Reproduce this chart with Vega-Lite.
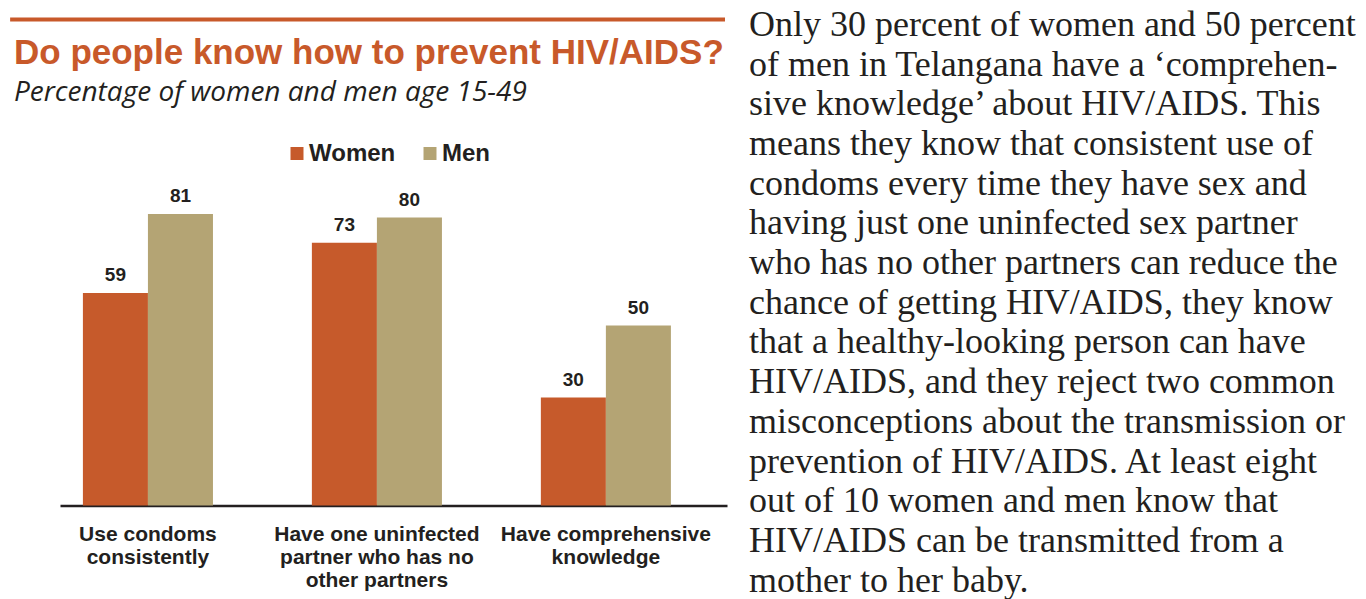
{
  "$schema": "https://vega.github.io/schema/vega-lite/v6.json",
  "background": "white",
  "padding": {"left": 10, "top": 6.5, "right": 0, "bottom": 0},
  "config": {"view": {"stroke": null}, "font": "Liberation Sans"},
  "datasets": {
    "bars": [
      {"indicator": "Use condoms consistently", "sex": "Women", "value": 59},
      {"indicator": "Use condoms consistently", "sex": "Men", "value": 81},
      {"indicator": "Have one uninfected partner who has no other partners", "sex": "Women", "value": 73},
      {"indicator": "Have one uninfected partner who has no other partners", "sex": "Men", "value": 80},
      {"indicator": "Have comprehensive knowledge", "sex": "Women", "value": 30},
      {"indicator": "Have comprehensive knowledge", "sex": "Men", "value": 50}
    ],
    "lines": [
      {"line": 1, "text": "Only 30 percent of women and 50 percent"},
      {"line": 2, "text": "of men in Telangana have a ‘comprehen-"},
      {"line": 3, "text": "sive knowledge’ about HIV/AIDS. This"},
      {"line": 4, "text": "means they know that consistent use of"},
      {"line": 5, "text": "condoms every time they have sex and"},
      {"line": 6, "text": "having just one uninfected sex partner"},
      {"line": 7, "text": "who has no other partners can reduce the"},
      {"line": 8, "text": "chance of getting HIV/AIDS, they know"},
      {"line": 9, "text": "that a healthy-looking person can have"},
      {"line": 10, "text": "HIV/AIDS, and they reject two common"},
      {"line": 11, "text": "misconceptions about the transmission or"},
      {"line": 12, "text": "prevention of HIV/AIDS. At least eight"},
      {"line": 13, "text": "out of 10 women and men know that"},
      {"line": 14, "text": "HIV/AIDS can be transmitted from a"},
      {"line": 15, "text": "mother to her baby."}
    ]
  },
  "spacing": 22,
  "resolve": {"scale": {"color": "independent"}, "legend": {"color": "independent"}},
  "hconcat": [
    {
      "spacing": 14,
      "resolve": {"scale": {"color": "independent", "x": "independent", "y": "independent"}, "legend": {"color": "independent"}},
      "vconcat": [
        {
          "width": 665,
          "height": 4,
          "data": {"values": [{"k": "rule"}]},
          "mark": {"type": "rect", "color": "#c8592a", "clip": false},
          "encoding": {
            "x": {"datum": -0.075, "type": "quantitative", "scale": {"domain": [0, 1], "nice": false, "zero": false}, "axis": null},
            "x2": {"datum": 1},
            "y": {"datum": 0, "type": "quantitative", "scale": {"domain": [0, 1], "nice": false, "zero": false}, "axis": null},
            "y2": {"datum": 1}
          }
        },
        {
          "width": 667,
          "height": 324,
          "data": {"name": "bars"},
          "title": {
            "text": "Do people know how to prevent HIV/AIDS?",
            "subtitle": "Percentage of women and men age 15-49",
            "anchor": "start",
            "frame": "group",
            "dx": -46,
            "fontSize": 35,
            "font": "Liberation Sans",
            "fontWeight": "bold",
            "color": "#c8592a",
            "subtitleFont": "Open Sans",
            "subtitleFontStyle": "italic",
            "subtitleFontSize": 28,
            "subtitleColor": "#231f20",
            "subtitlePadding": 8,
            "offset": 35
          },
          "encoding": {
            "x": {
              "field": "indicator",
              "type": "nominal",
              "sort": ["Use condoms consistently", "Have one uninfected partner who has no other partners", "Have comprehensive knowledge"],
              "scale": {"paddingInner": 0.432, "paddingOuter": 0.1725, "align": 0.29},
              "axis": {
                "title": null,
                "ticks": false,
                "domainColor": "#231f20",
                "domainWidth": 2.5,
                "labelAngle": 0,
                "labelFont": "Liberation Sans",
                "labelFontSize": 21,
                "labelFontWeight": "bold",
                "labelColor": "#231f20",
                "labelPadding": 18,
                "labelLineHeight": 23,
                "labelBaseline": "top",
                "labelLimit": 400,
                "labelExpr": "datum.value == 'Use condoms consistently' ? ['Use condoms', 'consistently'] : datum.value == 'Have comprehensive knowledge' ? ['Have comprehensive', 'knowledge'] : ['Have one uninfected', 'partner who has no', 'other partners']"
              }
            },
            "xOffset": {"field": "sex", "type": "nominal", "sort": ["Women", "Men"]},
            "y": {"field": "value", "type": "quantitative", "scale": {"domain": [0, 90], "nice": false}, "axis": null}
          },
          "layer": [
            {
              "mark": {"type": "bar"},
              "encoding": {
                "color": {
                  "field": "sex",
                  "type": "nominal",
                  "scale": {"domain": ["Women", "Men"], "range": ["#c65a2b", "#b4a474"]},
                  "legend": {
                    "orient": "none",
                    "legendX": 225,
                    "legendY": -40,
                    "direction": "horizontal",
                    "title": null,
                    "symbolType": "square",
                    "symbolSize": 169,
                    "symbolStrokeWidth": 0,
                    "labelFont": "Liberation Sans",
                    "labelFontSize": 24,
                    "labelFontWeight": "bold",
                    "labelColor": "#231f20",
                    "columnPadding": 22,
                    "labelOffset": 0
                  }
                }
              }
            },
            {
              "mark": {"type": "text", "baseline": "bottom", "dy": -8, "font": "Liberation Sans", "fontSize": 19, "fontWeight": "bold", "color": "#231f20"},
              "encoding": {"text": {"field": "value", "type": "quantitative"}}
            }
          ]
        }
      ]
    },
    {
      "width": 600,
      "height": 582,
      "data": {"name": "lines"},
      "mark": {"type": "text", "align": "left", "baseline": "alphabetic", "font": "Liberation Serif", "fontSize": 36, "color": "#231f20"},
      "encoding": {
        "x": {"datum": 0, "type": "quantitative", "scale": {"domain": [0, 1]}, "axis": null},
        "y": {"field": "line", "type": "quantitative", "scale": {"domain": [0.539, 15.199], "reverse": true, "nice": false, "zero": false}, "axis": null},
        "text": {"field": "text"}
      }
    }
  ]
}
